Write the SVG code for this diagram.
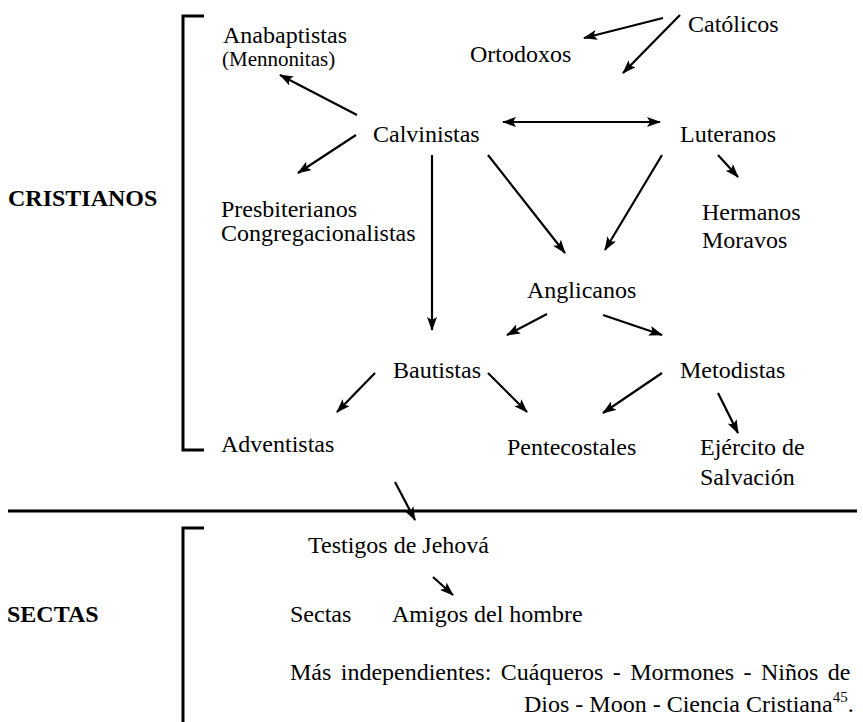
<svg xmlns="http://www.w3.org/2000/svg" width="863" height="722" viewBox="0 0 863 722" font-family="'Liberation Serif', 'Times New Roman', serif">
<defs>
<marker id="ah" viewBox="0 0 14 10" refX="13" refY="5" markerWidth="14" markerHeight="10" markerUnits="userSpaceOnUse" orient="auto-start-reverse">
<path d="M0,0 L14,5 L0,10 L3,5 z" fill="#000"/>
</marker>
</defs>
<style>
text{font-family:"Liberation Serif","Times New Roman",serif;font-size:24px;fill:#000}
.sm{font-size:21px}
.hd{font-weight:bold}
.c line{stroke:#000;stroke-width:2.2;marker-end:url(#ah)}
.br{fill:none;stroke:#000;stroke-width:3}
</style>
<rect width="863" height="722" fill="#fff"/>
<g id="brackets">
<path class="br" d="M204,16 H183 V450 H204"/>
<path class="br" d="M204,528 H183 V722"/>
<line x1="8" y1="511" x2="857" y2="511" stroke="#000" stroke-width="3"/>
</g>
<g id="labels">
<text class="hd" x="8" y="206">CRISTIANOS</text>
<text class="hd" x="7" y="622">SECTAS</text>
</g>
<g id="catolicos"><text x="688" y="32">Católicos</text></g>
<g id="ortodoxos"><text x="470" y="62">Ortodoxos</text></g>
<g id="anabaptistas"><text x="223" y="43">Anabaptistas</text><text class="sm" x="222" y="66">(Mennonitas)</text></g>
<g id="calvinistas"><text x="373" y="142">Calvinistas</text></g>
<g id="luteranos"><text x="680" y="142">Luteranos</text></g>
<g id="presbiterianos"><text x="221" y="217">Presbiterianos</text><text x="221" y="241">Congregacionalistas</text></g>
<g id="hermanos"><text x="702" y="220">Hermanos</text><text x="702" y="248">Moravos</text></g>
<g id="anglicanos"><text x="527" y="298">Anglicanos</text></g>
<g id="bautistas"><text x="393" y="378">Bautistas</text></g>
<g id="metodistas"><text x="680" y="378">Metodistas</text></g>
<g id="adventistas"><text x="221" y="452">Adventistas</text></g>
<g id="pentecostales"><text x="507" y="455">Pentecostales</text></g>
<g id="ejercito"><text x="700" y="455">Ejército de</text><text x="700" y="485">Salvación</text></g>
<g id="testigos"><text x="308" y="553">Testigos de Jehová</text></g>
<g id="sectas"><text x="290" y="622">Sectas</text></g>
<g id="amigos"><text x="392" y="622">Amigos del hombre</text></g>
<g id="independientes">
<text x="290" y="680" word-spacing="3.4">Más independientes: Cuáqueros - Mormones - Niños de</text>
<text x="524" y="712">Dios - Moon - Ciencia Cristiana<tspan font-size="15" dy="-10">45</tspan><tspan dy="10">.</tspan></text>
</g>
<g id="connectors" class="c">
<line x1="663" y1="18" x2="584" y2="38"/>
<line x1="680" y1="15" x2="623" y2="73"/>
<line x1="357" y1="115" x2="280" y2="75"/>
<line x1="356" y1="135" x2="298" y2="173"/>
<line x1="503" y1="122" x2="660" y2="122" style="marker-start:url(#ah)"/>
<line x1="432" y1="155" x2="432" y2="330"/>
<line x1="488" y1="155" x2="565" y2="253"/>
<line x1="662" y1="155" x2="605" y2="250"/>
<line x1="718" y1="155" x2="738" y2="177"/>
<line x1="547" y1="314" x2="507" y2="335"/>
<line x1="603" y1="315" x2="662" y2="335"/>
<line x1="375" y1="373" x2="337" y2="412"/>
<line x1="488" y1="373" x2="527" y2="412"/>
<line x1="662" y1="373" x2="603" y2="413"/>
<line x1="718" y1="393" x2="738" y2="433"/>
<line x1="395" y1="482" x2="415" y2="520"/>
<line x1="433" y1="577" x2="453" y2="595"/>
</g>
</svg>
